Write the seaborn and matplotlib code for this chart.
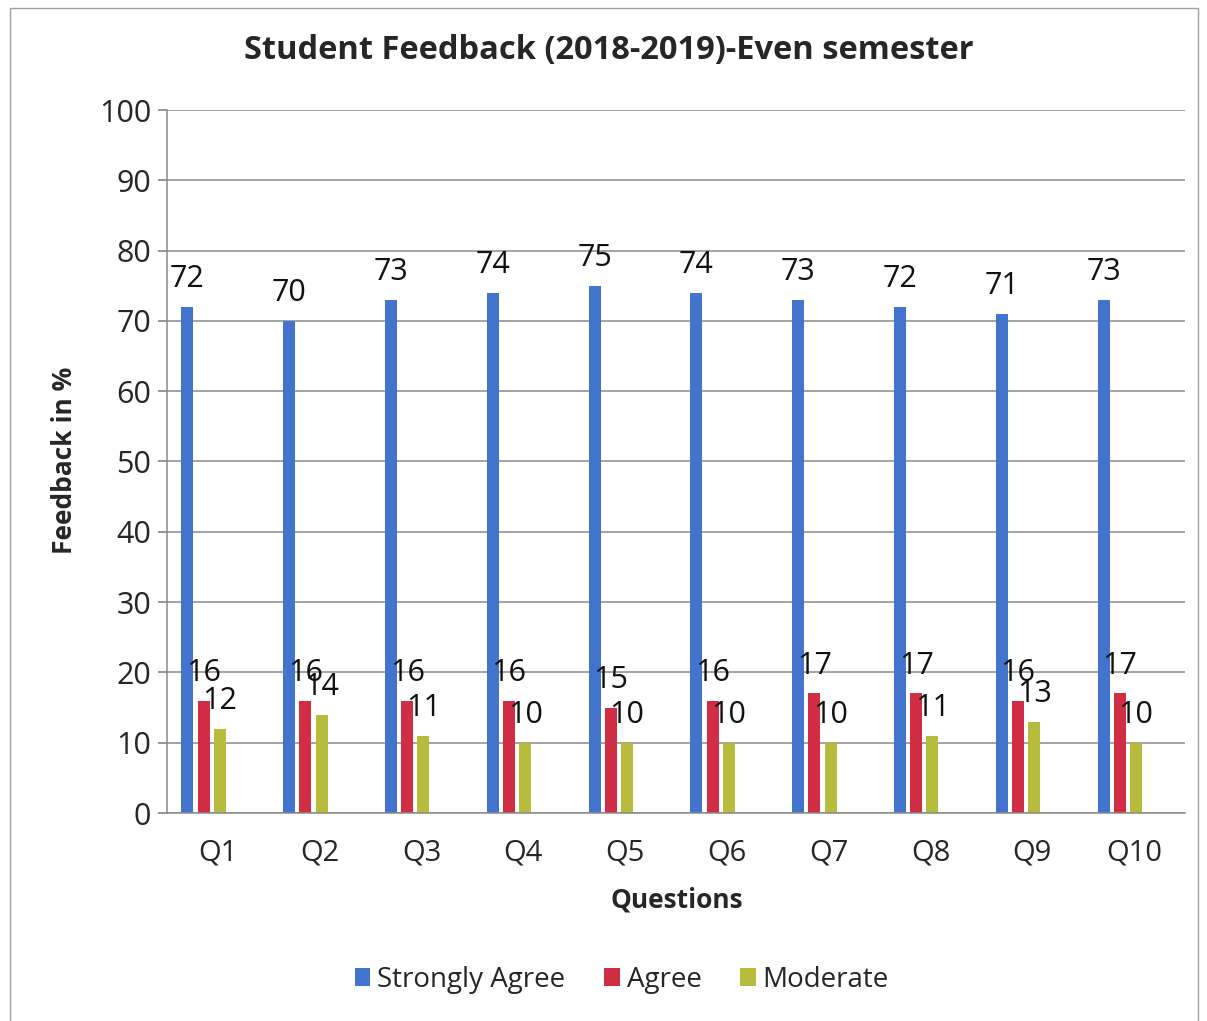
import numpy as np
import pandas as pd
import seaborn as sns
import matplotlib
matplotlib.use("Agg")
from matplotlib import pyplot as plt
from matplotlib.patches import Patch, Rectangle

# data
questions = ["Q1", "Q2", "Q3", "Q4", "Q5", "Q6", "Q7", "Q8", "Q9", "Q10"]
strongly_agree = [72, 70, 73, 74, 75, 74, 73, 72, 71, 73]
agree = [16, 16, 16, 16, 15, 16, 17, 17, 16, 17]
moderate = [12, 14, 11, 10, 10, 10, 10, 11, 13, 10]
series = ["Strongly Agree", "Agree", "Moderate"]
colors = ["#4274CE", "#D12E45", "#B8BC3C"]

df = pd.DataFrame({
    "Question": questions * 3,
    "Response": [series[0]] * 10 + [series[1]] * 10 + [series[2]] * 10,
    "Value": strongly_agree + agree + moderate,
})

sns.set_theme(style="white")
plt.rcParams['font.family'] = ['Open Sans', 'DejaVu Sans']

fig = plt.figure(figsize=(12.07, 10.21), dpi=100)
ax = fig.add_axes([167 / 1207, 1 - 813 / 1021, (1185 - 167) / 1207, (813 - 110) / 1021])

sns.barplot(data=df, x="Question", y="Value", hue="Response", hue_order=series,
            order=questions, palette=colors, saturation=1, width=0.477,
            dodge=True, legend=False, ax=ax, errorbar=None)

# excel-like thin bars, cluster sitting a bit left of the category centre
bar_w = 0.118
shift = -0.14
for cont in ax.containers:
    for bar in cont:
        cx = bar.get_x() + bar.get_width() / 2 + shift
        bar.set_width(bar_w)
        bar.set_x(cx - bar_w / 2)
        bar.set_edgecolor("none")
        h = bar.get_height()
        ax.annotate(f"{h:.0f}", (cx, h), xytext=(0, 14), textcoords="offset points",
                    ha="center", va="baseline", fontsize=22, color="#111111")

ax.set_xlim(-0.5, 9.5)
ax.set_ylim(0, 100)
ax.set_yticks(np.arange(0, 101, 10))
ax.yaxis.grid(True, color="#8a8a8a", lw=1.1)
ax.set_axisbelow(True)
for s in ["top", "right"]:
    ax.spines[s].set_visible(False)
for s in ["left", "bottom"]:
    ax.spines[s].set_color("#8a8a8a")
    ax.spines[s].set_linewidth(1.1)
ax.tick_params(axis="y", left=True, length=6.5, color="#8a8a8a", labelsize=22, pad=5)
ax.tick_params(axis="x", bottom=False, labelsize=21, pad=12)
ax.set_xlabel("")
ax.set_ylabel("")

fig.text(65 / 1207, 1 - 460 / 1021, "Feedback in %", rotation=90, ha="center", va="center",
         fontsize=19, fontweight="bold")
fig.text(677 / 1207, 1 - 900 / 1021, "Questions", ha="center", va="center",
         fontsize=19, fontweight="bold")
fig.text(609 / 1207, 1 - 50 / 1021, "Student Feedback (2018-2019)-Even semester",
         ha="center", va="center", fontsize=23.5, fontweight="bold")

handles = [Patch(facecolor=c, edgecolor="none") for c in colors]
fig.legend(handles, series, loc="center", bbox_to_anchor=(622 / 1207, 1 - 980 / 1021),
           ncol=3, frameon=False, fontsize=20, handlelength=0.55, handleheight=0.6,
           handletextpad=0.25, columnspacing=1.4)

fig.add_artist(Rectangle((10 / 1207, -0.05), 1188 / 1207, 1.05 - 8 / 1021,
                         transform=fig.transFigure, fill=False, edgecolor="#a0a0a0", lw=1))

fig.savefig("out.png", dpi=100)
